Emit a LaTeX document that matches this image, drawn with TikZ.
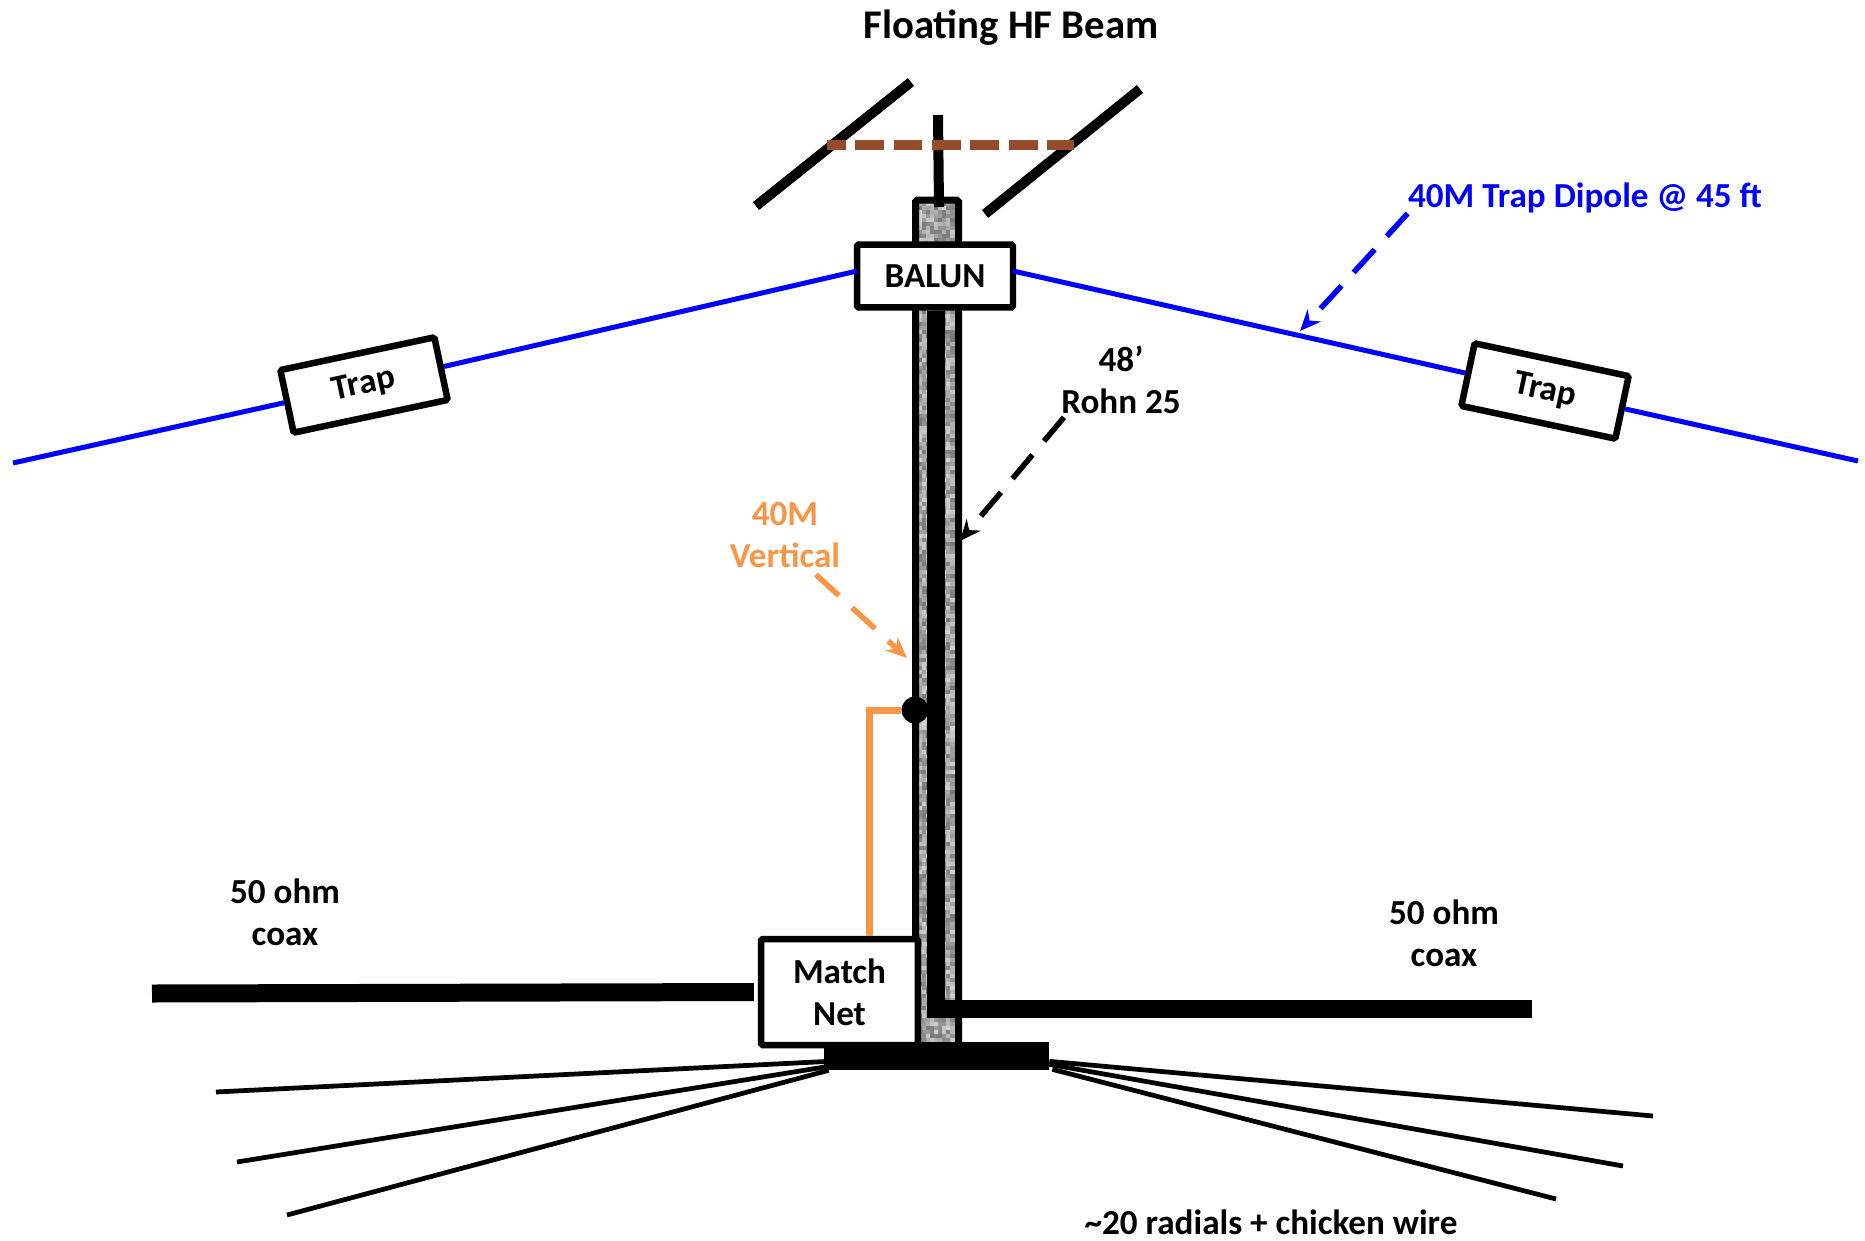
\documentclass[tikz,border=0pt]{standalone}
\usepackage{fontspec}
\setmainfont{Carlito}
\usetikzlibrary{positioning, calc, arrows.meta}
\definecolor{dipole_blue}{RGB}{0, 0, 255}
\definecolor{vertical_orange}{RGB}{247, 150, 70}
\definecolor{beam_brown}{RGB}{150, 75, 42}

\begin{document}
\begin{tikzpicture}[
    x=0.02cm, y=-0.02cm,
    >=Stealth,
    font=\bfseries\fontsize{20}{24}\selectfont,
    % Boxes on the wires and on the tower
    box/.style={
        draw=black,
        line width=0.13cm,
        rectangle,
        rounded corners=1pt,
        align=center,
        inner sep=0pt,
        fill=white
    },
    label/.style={align=center, inner sep=0pt},
    element/.style={line width=0.2cm, black},
    coax/.style={line width=0.36cm, black},
    radial/.style={line width=0.095cm, black},
    wire/.style={line width=0.1cm, dipole_blue},
    callout/.style={->, line width=0.11cm, dash pattern=on 0.62cm off 0.36cm, -{Stealth[length=0.42cm, width=0.36cm]}}
]
    \useasboundingbox (0,0) rectangle (1865,1240);

    % ==========================================
    % 1. TOWER
    % ==========================================

    \pgfmathsetseed{25}
    \foreach \i in {0,...,8} {
        \foreach \j in {0,...,209} {
            \pgfmathsetmacro{\shade}{int(18+rnd*36)}
            \fill [black!\shade!white] (918+4*\i,202+4*\j) rectangle +(5,5);
        }
    }
    \node (tower) [draw=black, line width=0.14cm, outer sep=0pt, rounded corners=1pt, inner sep=0pt, minimum width=0.86cm, minimum height=16.94cm] at (937,1047) [anchor=south] {};

    % ==========================================
    % 2. FLOATING HF BEAM
    % ==========================================

    \node (title) [label, font=\bfseries\fontsize{23.2}{28}\selectfont] at (1011,28) {Floating HF Beam};

    \coordinate (refl_a) at (756,206);
    \coordinate (refl_b) at (911,82);
    \coordinate (dir_a) at (985,214);
    \coordinate (dir_b) at (1140,89);
    \coordinate (boom_top) at (938,115);
    \coordinate (boom_foot) at (939,207);

    \draw [element] (refl_a) -- (refl_b);
    \draw [element] (dir_a) -- (dir_b);
    \draw [element] (boom_top) -- (boom_foot);
    \draw [line width=0.19cm, beam_brown, dash pattern=on 0.58cm off 0.19cm, dash phase=0.21cm] (827,145) -- (1074,145);

    % ==========================================
    % 3. 40M TRAP DIPOLE
    % ==========================================

    \node (balun) [box, minimum width=3.12cm, minimum height=1.26cm] at (935,276) {BALUN};
    \node (trap_left) [box, rotate=12, minimum width=3.15cm, minimum height=1.28cm] at (364,385) {Trap};
    \node (trap_right) [box, rotate=-12, minimum width=3.15cm, minimum height=1.28cm] at (1545,391) {Trap};

    \coordinate (wire_left) at (13,463);
    \coordinate (wire_right) at (1858,461);
    \coordinate (feed_left) at (857,271);
    \coordinate (feed_right) at (1013,271);

    \draw [wire] (wire_left) -- (trap_left);
    \draw [wire] (trap_left) -- (feed_left);
    \draw [wire] (feed_right) -- (trap_right);
    \draw [wire] (trap_right) -- (wire_right);

    \node (label_dipole) [label, text=dipole_blue] at (1585,198) {40M Trap Dipole @ 45 ft};
    \coordinate (dipole_tip) at (1300,331);
    \draw [callout, dipole_blue] (label_dipole.south west) -- (dipole_tip);

    % ==========================================
    % 4. TOWER LABEL AND 40M VERTICAL
    % ==========================================

    \node (label_rohn) [label] at (1121,380) {48’\\Rohn 25};
    \coordinate (rohn_tip) at (960,541);
    \draw [callout, black] ([xshift=0.06cm,yshift=-0.06cm]label_rohn.south west) -- (rohn_tip);

    \node (match) [box, minimum width=3.14cm, minimum height=2.12cm] at (839.5,992) {Match\\Net};
    \node (feed_dot) [circle, fill=black, inner sep=0pt, minimum size=0.54cm] at (915,710) {};
    \draw [line width=0.14cm, vertical_orange] ([xshift=0.59cm]match.north) |- (feed_dot);

    \node (label_vertical) [label, text=vertical_orange] at (785,535.5) {40M\\Vertical};
    \coordinate (vertical_tip) at (907,658);
    \draw [callout, vertical_orange] ([xshift=0.62cm,yshift=-0.12cm]label_vertical.south) -- (vertical_tip);

    % ==========================================
    % 5. COAX RUNS
    % ==========================================

    \coordinate (coax_corner) at (936,1009);
    \coordinate (coax_right) at (1532,1009);
    \coordinate (coax_left) at (152,993.5);

    \draw [coax] (balun.south) ++(1,0) -- (coax_corner) -- (coax_right);
    \draw [coax, shorten >=0.08cm] (coax_left) -- (match.west);

    \node (label_coax_left) [label] at (285,912) {50 ohm\\coax};
    \node (label_coax_right) [label] at (1444,933.5) {50 ohm\\coax};

    % ==========================================
    % 6. GROUND PLATE AND RADIALS
    % ==========================================

    \node (base) [fill=black, inner sep=0pt, minimum width=4.5cm, minimum height=0.56cm] at (936.5,1056) {};

    \foreach \ex/\ey/\up in {216/1092/9, 237/1162/4, 287/1215/0} {
        \draw [radial] (\ex,\ey) -- ([xshift=0.1cm,yshift=\up*0.02cm]base.south west);
    }
    \foreach \ex/\ey/\up/\ox in {1653/1116/9/0, 1623/1166/6/0, 1556/1199/1/3} {
        \draw [radial] (\ex,\ey) -- ([xshift=\ox*0.02cm,yshift=\up*0.02cm]base.south east);
    }

    \node (label_radials) [label] at (1271,1222) {\textasciitilde 20 radials + chicken wire};

\end{tikzpicture}
\end{document}
